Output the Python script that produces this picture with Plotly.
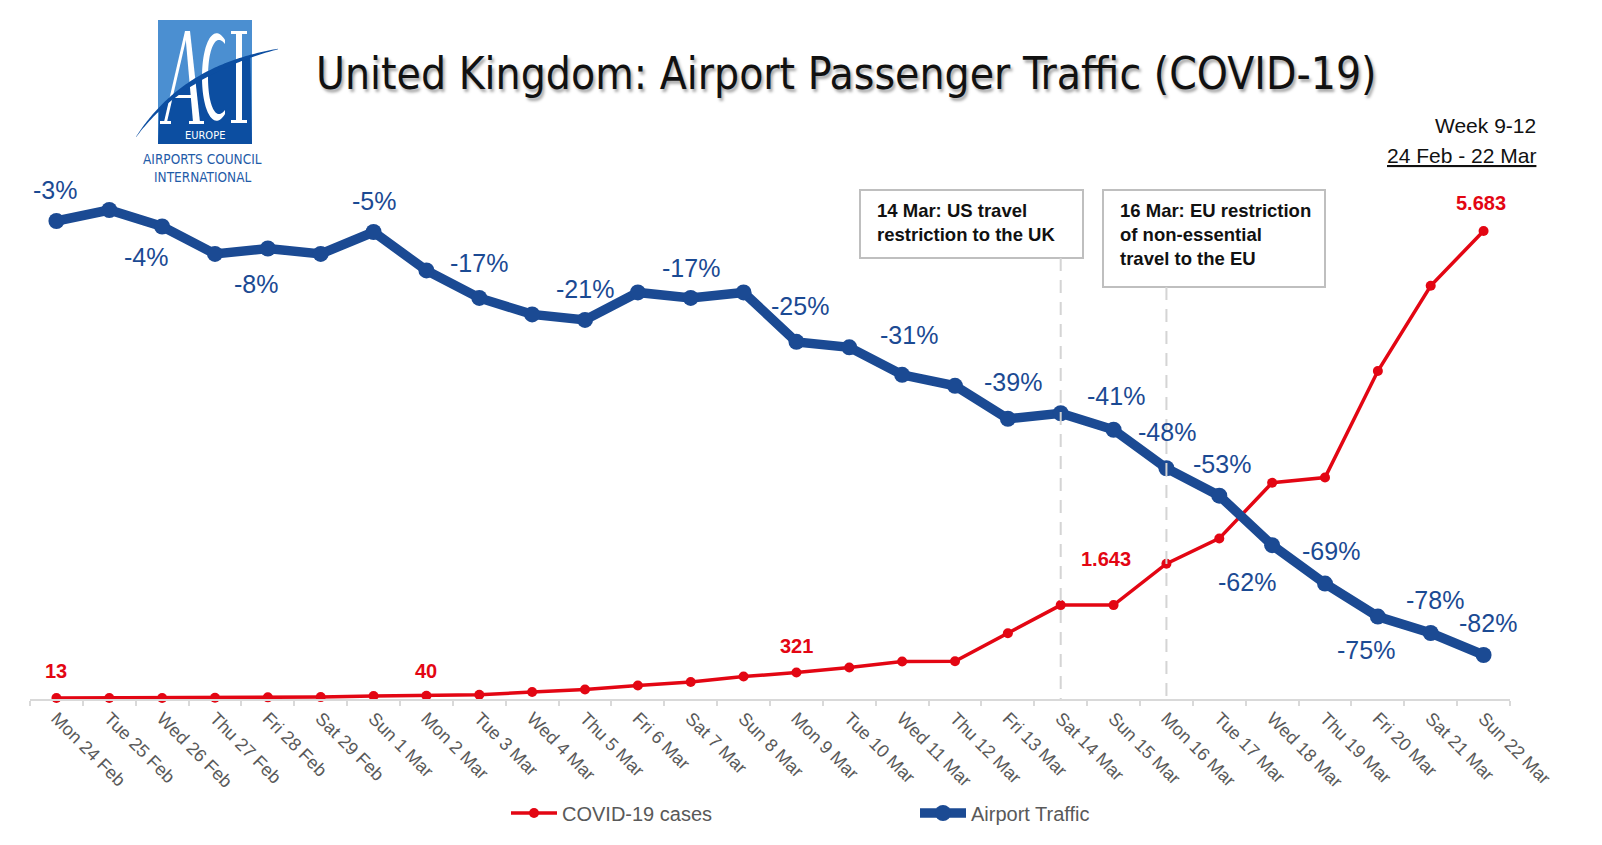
import math
import plotly.graph_objects as go

# ---------------- data ----------------
days = ["Mon 24 Feb", "Tue 25 Feb", "Wed 26 Feb", "Thu 27 Feb", "Fri 28 Feb", "Sat 29 Feb",
        "Sun 1 Mar", "Mon 2 Mar", "Tue 3 Mar", "Wed 4 Mar", "Thu 5 Mar", "Fri 6 Mar",
        "Sat 7 Mar", "Sun 8 Mar", "Mon 9 Mar", "Tue 10 Mar", "Wed 11 Mar", "Thu 12 Mar",
        "Fri 13 Mar", "Sat 14 Mar", "Sun 15 Mar", "Mon 16 Mar", "Tue 17 Mar", "Wed 18 Mar",
        "Thu 19 Mar", "Fri 20 Mar", "Sat 21 Mar", "Sun 22 Mar"]
covid_cases = [13, 13, 13, 15, 20, 23, 36, 40, 51, 85, 115, 163, 206, 273, 321, 382, 456, 459,
               798, 1140, 1140, 1643, 1950, 2626, 2689, 3983, 5018, 5683]
airport_traffic = [-3, -1, -4, -9, -8, -9, -5, -12, -17, -20, -21, -16, -17, -16, -25, -26, -31,
                   -33, -39, -38, -41, -48, -53, -62, -69, -75, -78, -82]
traffic_labelled = [0, 2, 4, 6, 8, 10, 12, 14, 16, 18, 20, 21, 22, 23, 24, 25, 26, 27]
cases_labelled = [0, 7, 14, 21, 27]
events = [("Sat 14 Mar", "14 Mar: US travel<br>restriction to the UK"),
          ("Mon 16 Mar", "16 Mar: EU restriction<br>of non-essential<br>travel to the EU")]

# label placement (pixel offsets dx, dy ; dy positive = downwards)
traffic_label_offsets = {0: (-1, -31), 2: (-16, 31), 4: (-12, 36), 6: (0, -31), 8: (0, -35),
                         10: (0, -31), 12: (0, -30), 14: (4, -36), 16: (7, -40), 18: (5, -37),
                         20: (2, -34), 21: (1, -36), 22: (3, -32), 23: (-25, 37), 24: (6, -33),
                         25: (-12, 33), 26: (4, -33), 27: (4, -32)}
cases_label_offsets = {0: (0, -27), 7: (0, -25), 14: (0, -27), 21: (-60, -5), 27: (-3, -28)}

# ---------------- layout geometry ----------------
W, H = 1602, 845
L, R, T, B = 30, 92, 180, 146
PW, PH = W - L - R, H - T - B


def fx(x):
    return (x - L) / PW


def fy(y):
    return (H - B - y) / PH


RED = "#e30613"
BLUE = "#1b4a93"
GRAY_TXT = "#595959"
AX_GRAY = "#d9d9d9"
NARROW = "Liberation Sans Narrow, DejaVu Sans Condensed, Arial Narrow, sans-serif"
SANS = "Liberation Sans, Arial, sans-serif"

fig = go.Figure()
fig.add_trace(go.Scatter(
    x=days, y=covid_cases, name="COVID-19 cases", mode="lines+markers",
    line=dict(color=RED, width=3.5), marker=dict(color=RED, size=10),
    yaxis="y", cliponaxis=False, legend="legend"))
fig.add_trace(go.Scatter(
    x=days, y=airport_traffic, name="Airport Traffic", mode="lines+markers",
    line=dict(color=BLUE, width=9.5), marker=dict(color=BLUE, size=16),
    yaxis="y2", cliponaxis=False, legend="legend2"))

ann = []
for i in traffic_labelled:
    dx, dy = traffic_label_offsets[i]
    ann.append(dict(x=days[i], y=airport_traffic[i], xref="x", yref="y2",
                    text=f"{airport_traffic[i]}%", showarrow=False,
                    xanchor="center", yanchor="middle",
                    xshift=dx, yshift=-dy,
                    font=dict(family=SANS, size=25, color=BLUE)))
for i in cases_labelled:
    dx, dy = cases_label_offsets[i]
    ann.append(dict(x=days[i], y=covid_cases[i], xref="x", yref="y",
                    text=f"{covid_cases[i]:,}".replace(",", "."), showarrow=False,
                    xanchor="center", yanchor="middle",
                    xshift=dx, yshift=-dy,
                    font=dict(family=SANS, size=20, color=RED, weight=600)))


def note(x, y, text, font, xanchor="center", yanchor="middle", **kw):
    ann.append(dict(x=fx(x), y=fy(y), xref="paper", yref="paper", showarrow=False,
                    xanchor=xanchor, yanchor=yanchor, text=text, font=font, **kw))


# title and subtitle
note(846, 74, "United Kingdom: Airport Passenger Traffic (COVID-19)",
     dict(family=NARROW, size=44, color="#111111", shadow="2px 3px 3px rgba(0,0,0,0.35)"))
note(1538, 126, "Week 9-12", dict(family=SANS, size=21, color="#111111"), xanchor="right")
note(1538, 155, "24 Feb - 22 Mar",
     dict(family=SANS, size=21, color="#111111", lineposition="under"), xanchor="right")

shapes = []
# event boxes and dashed lines
boxes = [(860, 190, 1083, 258), (1103, 190, 1325, 287)]
for (day, txt), (x0, y0, x1, y1) in zip(events, boxes):
    shapes.append(dict(type="rect", xref="paper", yref="paper",
                       x0=fx(x0), x1=fx(x1), y0=fy(y0), y1=fy(y1),
                       line=dict(color="#bfbfbf", width=2), fillcolor="white", layer="above"))
    note(x0 + 15, y0 + 8, f"<b>{txt}</b>", dict(family=SANS, size=18.5, color="#111111"),
         xanchor="left", yanchor="top", align="left")
    shapes.append(dict(type="line", xref="x", yref="paper", x0=day, x1=day,
                       y0=fy(y1), y1=0, layer="above",
                       line=dict(color="#d4d4d4", width=2, dash="13px,9px")))

# ---------------- ACI logo ----------------
LIGHT = "#4b8fd1"
DARK = "#0c4ea1"


def path(points, close=True):
    s = "M " + " L ".join(f"{fx(x):.5f},{fy(y):.5f}" for x, y in points)
    return s + (" Z" if close else "")


def bez(p0, c, p2, n=80):
    pts = []
    for k in range(n + 1):
        t = k / n
        x = (1 - t) ** 2 * p0[0] + 2 * (1 - t) * t * c[0] + t * t * p2[0]
        y = (1 - t) ** 2 * p0[1] + 2 * (1 - t) * t * c[1] + t * t * p2[1]
        pts.append((x, y, t))
    return pts


def cubic(p0, c1, c2, p3, n=30):
    pts = []
    for k in range(n + 1):
        t = k / n
        x = ((1 - t) ** 3 * p0[0] + 3 * (1 - t) ** 2 * t * c1[0] + 3 * (1 - t) * t * t * c2[0]
             + t ** 3 * p3[0])
        y = ((1 - t) ** 3 * p0[1] + 3 * (1 - t) ** 2 * t * c1[1] + 3 * (1 - t) * t * t * c2[1]
             + t ** 3 * p3[1])
        pts.append((x, y))
    return pts


rx0, ry0, rx1, ry1 = 158, 20, 252, 144
shapes.append(dict(type="rect", xref="paper", yref="paper", x0=fx(rx0), x1=fx(rx1),
                   y0=fy(ry0), y1=fy(ry1), fillcolor=LIGHT, line=dict(width=0)))
curve = bez((136, 137), (182, 70), (278, 49))
inside = [(x, y) for x, y, t in curve if rx0 <= x <= rx1 and ry0 <= y <= ry1]
dark_poly = inside + [(rx1, ry1), (rx0, ry1)]
shapes.append(dict(type="path", xref="paper", yref="paper", path=path(dark_poly),
                   fillcolor=DARK, line=dict(width=0)))

letters = [
    [(164, 122), (167, 122), (188, 31), (185, 31)],            # A left leg
    [(185, 31), (190, 31), (200, 122), (193, 122)],            # A right leg
    [(171, 95), (197, 95), (197, 98), (171, 98)],              # A bar
    [(160, 121), (171, 121), (171, 124), (160, 124)],          # A serif
    [(189, 121), (204, 121), (204, 124), (189, 124)],          # A serif
    cubic((225, 40), (214, 22), (202, 42), (202, 77)) + cubic((202, 77), (202, 112), (214, 132), (225, 114))
    + cubic((225, 110), (216, 122), (208, 106), (208, 77)) + cubic((208, 77), (208, 48), (216, 32), (225, 44)),
    [(236, 32), (242, 32), (242, 122), (236, 122)],            # I stem
    [(231, 31), (247, 31), (247, 34), (231, 34)],
    [(231, 120), (247, 120), (247, 123), (231, 123)],
]
for poly in letters:
    shapes.append(dict(type="path", xref="paper", yref="paper", path=path(poly),
                       fillcolor="white", line=dict(width=0)))

# swoosh
upper, lower = [], []
for x, y, t in curve:
    th = 2.6 * math.sin(math.pi * t) + 0.3
    upper.append((x, y - th))
    lower.append((x, y + th))
shapes.append(dict(type="path", xref="paper", yref="paper", path=path(upper + lower[::-1]),
                   fillcolor=DARK, line=dict(width=0)))

note(205, 135, "EUROPE", dict(family=NARROW, size=11, color="white"))
note(202, 159, "AIRPORTS COUNCIL", dict(family=NARROW, size=13.5, color="#1f5ca8"))
note(202, 177, "INTERNATIONAL", dict(family=NARROW, size=13.5, color="#1f5ca8"))

# ---------------- axes ----------------
px_per_case = (699 - 231) / 5683.0
px_per_pct = (655 - 221) / 79.0
y1_top = PH / px_per_case
y2_top = -3 + (221 - T) / px_per_pct
y2_bot = -3 - (H - B - 221) / px_per_pct

fig.update_layout(
    width=W, height=H, margin=dict(l=L, r=R, t=T, b=B),
    paper_bgcolor="white", plot_bgcolor="white",
    xaxis=dict(type="category", range=[-0.5, len(days) - 0.5], showgrid=False,
               showline=True, linecolor=AX_GRAY, linewidth=1.5,
               ticks="outside", tickson="boundaries", ticklen=5, tickcolor=AX_GRAY,
               tickwidth=1.5, tickangle=45,
               tickfont=dict(family=SANS, size=18, color=GRAY_TXT)),
    yaxis=dict(range=[0, y1_top], visible=False, showgrid=False, zeroline=False),
    yaxis2=dict(range=[y2_bot, y2_top], visible=False, overlaying="y", side="right",
                showgrid=False, zeroline=False),
    legend=dict(orientation="h", x=fx(506), y=fy(813), xanchor="left", yanchor="middle",
                font=dict(family=SANS, size=20, color=GRAY_TXT), itemwidth=46,
                bgcolor="rgba(0,0,0,0)"),
    legend2=dict(orientation="h", x=fx(915), y=fy(813), xanchor="left", yanchor="middle",
                 font=dict(family=SANS, size=20, color=GRAY_TXT), itemwidth=46,
                 bgcolor="rgba(0,0,0,0)"),
    annotations=ann, shapes=shapes, showlegend=True,
)

fig.write_html("out.html")
